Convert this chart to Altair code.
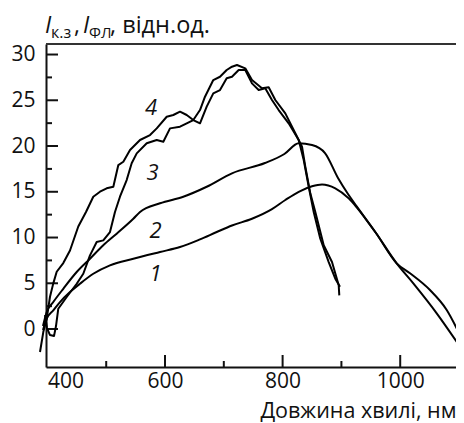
import altair as alt
import pandas as pd

# ---- data ----
wl1 = [392.5, 398.8, 410.0, 421.4, 438.4, 455.4, 478.0, 506.4, 546.1, 591.5, 625.5, 659.5,
       687.9, 713.9, 747.9, 781.9, 804.6, 827.4, 850.0, 867.0, 889.6, 912.4, 926.0, 958.8,
       994.0, 1016.7, 1050.6, 1079.1, 1101.7]
i1 = [-0.11, 1.13, 2.04, 2.95, 4.04, 4.95, 6.04, 6.96, 7.68, 8.42, 8.96, 9.80,
      10.60, 11.31, 12.05, 13.10, 14.10, 15.00, 15.60, 15.80, 15.38, 14.28, 13.30, 10.49,
      7.18, 6.09, 4.26, 2.08, -0.66]

wl2 = [392.5, 398.8, 410.0, 427.0, 449.8, 472.4, 495.0, 517.8, 546.1, 557.5, 591.5, 631.1,
       670.9, 713.9, 770.0, 803.0, 827.4, 850.0, 872.1, 894.2, 911.2, 926.0, 958.8, 994.0,
       1022.3, 1062.1, 1101.7]
i2 = [0.33, 1.86, 2.95, 4.40, 6.23, 7.68, 9.15, 10.42, 12.05, 12.79, 13.74, 14.46,
      15.55, 17.02, 18.14, 19.13, 20.30, 20.11, 19.23, 16.50, 14.75, 13.40, 10.49, 7.18,
      4.99, 1.72, -1.93]

wl3 = [395.9, 399.3, 404.4, 411.2, 414.6, 418.5, 432.8, 449.8, 461.0, 472.4, 483.8, 495.0,
       506.4, 514.9, 523.4, 534.8, 543.3, 551.9, 568.9, 585.9, 597.1, 608.5, 625.5, 636.9,
       648.1, 659.5, 670.9, 682.1, 693.5, 704.9, 713.9, 725.3, 736.5, 747.9, 759.3, 770.5,
       781.9, 793.3, 810.3, 827.4, 835.9, 844.4, 852.9, 864.1, 878.4, 889.6, 897.6]
i3 = [1.53, 0.11, -0.66, -0.77, 0.33, 2.22, 3.50, 4.95, 6.04, 8.05, 9.51, 9.69,
      10.60, 12.79, 14.46, 16.28, 18.11, 19.20, 20.30, 20.66, 20.47, 21.93, 22.11, 22.48,
      22.84, 22.48, 24.30, 25.76, 26.12, 27.40, 27.57, 28.31, 28.31, 26.85, 26.12, 26.31,
      25.03, 23.93, 22.48, 20.66, 18.47, 15.55, 12.79, 9.87, 7.32, 5.50, 4.62]

wl4 = [387.4, 393.0, 398.8, 404.4, 410.0, 415.8, 427.0, 438.4, 452.5, 465.6, 478.0, 489.4,
       500.8, 512.1, 520.6, 529.1, 540.5, 557.5, 574.5, 585.9, 602.9, 614.1, 625.5, 636.9,
       648.1, 659.5, 668.0, 682.1, 693.5, 704.9, 713.9, 722.4, 736.5, 747.9, 764.9, 776.3,
       787.6, 804.6, 821.6, 833.0, 838.6, 847.1, 855.6, 869.9, 884.0, 895.4, 896.4]
i4 = [-2.51, -0.33, 1.13, 3.53, 4.99, 6.26, 7.21, 8.58, 11.20, 12.79, 14.46, 15.01,
      15.38, 15.55, 17.92, 18.28, 19.56, 20.66, 21.20, 21.93, 23.20, 23.39, 23.75, 23.39,
      22.84, 23.93, 25.39, 27.21, 27.57, 28.31, 28.67, 28.85, 28.49, 27.21, 26.31, 26.42,
      25.03, 23.57, 21.39, 19.92, 17.74, 14.83, 12.79, 9.15, 7.32, 4.78, 3.68]

curve_names = ["1", "2", "3", "4"]
label_x = [583.9, 583.9, 578.7, 576.2]
label_y = [6.0, 10.7, 17.1, 24.2]

x_label_values = [400, 600, 800, 1000]
x_ticks_major = [600, 800, 1000]
x_ticks_minor = [500, 700, 900]
y_label_values = [0, 5, 10, 15, 20, 25, 30]
y_ticks_minor = [2.5, 7.5, 12.5, 17.5, 22.5, 27.5]

x_title = "Довжина хвилі, нм"

# ---- build tables ----
def curve(name, xs, ys):
    return pd.DataFrame({"wl": xs, "I": ys, "series": name, "idx": range(len(xs))})

smooth = pd.concat([curve("1", wl1, i1), curve("2", wl2, i2)], ignore_index=True)
noisy = pd.concat([curve("3", wl3, i3), curve("4", wl4, i4)], ignore_index=True)
labels = pd.DataFrame({"name": curve_names, "wl": label_x, "I": label_y})

W, H = 410, 323
FONT = "Open Sans"
INK = "#111111"

xscale = alt.Scale(domain=[397.6, 397.6 + W / 0.588], nice=False, zero=False)
yscale = alt.Scale(domain=[-4.15, 31.15], nice=False, zero=False)

x_axis = alt.Axis(values=x_label_values, format="d", ticks=False, grid=False, domain=True,
                  domainColor=INK, domainWidth=2, labelFont=FONT, labelFontSize=21,
                  labelColor=INK, labelPadding=3, labelFlush=5,
                  title=x_title, titleFont=FONT, titleFontSize=21.5,
                  titleFontWeight="normal", titleColor=INK, titleAnchor="end",
                  titlePadding=9)
y_axis = alt.Axis(values=y_label_values, format="d", ticks=False, grid=False, domain=True,
                  domainColor=INK, domainWidth=2, labelFont=FONT, labelFontSize=21,
                  labelColor=INK, labelPadding=11, title=None)

smooth_layer = alt.Chart(smooth).mark_line(
    interpolate="monotone", color="black", strokeWidth=2
).encode(
    x=alt.X("wl:Q", scale=xscale, axis=x_axis),
    y=alt.Y("I:Q", scale=yscale, axis=y_axis),
    detail="series:N",
    order="idx:Q",
)

noisy_layer = alt.Chart(noisy).mark_line(
    interpolate="linear", color="black", strokeWidth=2, strokeJoin="round"
).encode(
    x=alt.X("wl:Q", scale=xscale),
    y=alt.Y("I:Q", scale=yscale),
    detail="series:N",
    order="idx:Q",
)

label_layer = alt.Chart(labels).mark_text(
    font=FONT, fontSize=22, fontStyle="italic", color=INK
).encode(
    x=alt.X("wl:Q", scale=xscale),
    y=alt.Y("I:Q", scale=yscale),
    text="name:N",
)

# inward ticks
xt_major = alt.Chart(pd.DataFrame({"v": x_ticks_major})).mark_rule(
    color=INK, strokeWidth=2).encode(
    x=alt.X("v:Q", scale=xscale), y=alt.value(H), y2=alt.value(H - 12))
xt_minor = alt.Chart(pd.DataFrame({"v": x_ticks_minor})).mark_rule(
    color=INK, strokeWidth=2).encode(
    x=alt.X("v:Q", scale=xscale), y=alt.value(H), y2=alt.value(H - 6))
yt_major = alt.Chart(pd.DataFrame({"v": y_label_values})).mark_rule(
    color=INK, strokeWidth=2).encode(
    y=alt.Y("v:Q", scale=yscale), x=alt.value(0), x2=alt.value(12))
yt_minor = alt.Chart(pd.DataFrame({"v": y_ticks_minor})).mark_rule(
    color=INK, strokeWidth=2).encode(
    y=alt.Y("v:Q", scale=yscale), x=alt.value(0), x2=alt.value(6))

one = pd.DataFrame({"a": [0]})
top_border = alt.Chart(one).mark_rule(color="#333333", strokeWidth=2).encode(
    x=alt.value(0), x2=alt.value(W), y=alt.value(0))

# y title with subscripts
def txt(s, x, y, size, italic=False):
    return alt.Chart(one).mark_text(
        text=s, font=FONT, fontSize=size, fontStyle="italic" if italic else "normal",
        color=INK, align="left", baseline="alphabetic"
    ).encode(x=alt.value(x), y=alt.value(y))

title_layers = [
    txt("I", -1, -11, 23, True),
    txt("к.з", 5, -6, 16),
    txt(",", 28, -11, 23),
    txt("I", 37, -11, 23, True),
    txt("ФЛ", 43, -6, 15),
    txt(", відн.од.", 64, -11, 23.5),
]

chart = alt.layer(
    top_border, xt_major, xt_minor, yt_major, yt_minor,
    smooth_layer, noisy_layer, label_layer, *title_layers
).properties(
    width=W, height=H,
    autosize=alt.AutoSizeParams(type="none"),
    padding={"left": 38, "top": 36, "right": 0, "bottom": 56},
).configure_view(stroke=None)

chart.save("out.html", embed_options={"renderer": "svg", "actions": False})
